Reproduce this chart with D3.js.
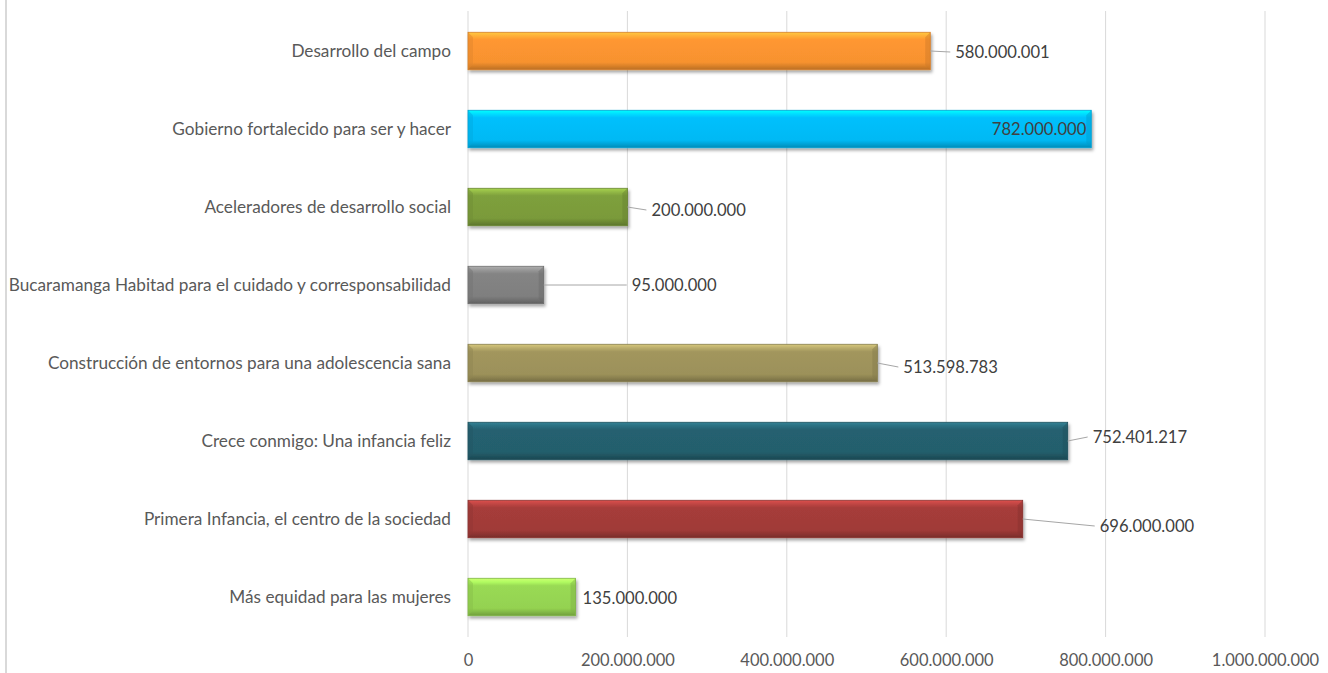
<!DOCTYPE html>
<html>
<head>
<meta charset="utf-8">
<script src="https://cdn.jsdelivr.net/npm/d3@7"></script>
<style>
  body { margin: 0; background: #fff; }
  svg { display: block; font-family: Lato, "Open Sans", sans-serif; }
</style>
</head>
<body>
<div id="chart"></div>
<script>
// categories (top to bottom) and values
const categories = [
  'Desarrollo del campo',
  'Gobierno fortalecido para ser y hacer',
  'Aceleradores de desarrollo social',
  'Bucaramanga Habitad para el cuidado y corresponsabilidad',
  'Construcción de entornos para una adolescencia sana',
  'Crece conmigo: Una infancia feliz',
  'Primera Infancia, el centro de la sociedad',
  'Más equidad para las mujeres'
];
const values = [580000001, 782000000, 200000000, 95000000, 513598783, 752401217, 696000000, 135000000];
const tickValues = [0, 200000000, 400000000, 600000000, 800000000, 1000000000];

// bar colours
const barColors = ['#F7922F', '#00B9F4', '#7A9A3A', '#7F7F7F', '#9C915A', '#245E6C', '#A03A38', '#94D251'];
// where each data label sits relative to the bar end (inside = drawn within bar)
const labelLayout = [
  { dx: 25, dy: 1 }, { inside: true }, { dx: 24, dy: 3 }, { dx: 88, dy: 0 },
  { dx: 26, dy: 4 }, { dx: 25, dy: -4 }, { dx: 77, dy: 7 }, { dx: 7, dy: 1, noLine: true }
];

const W = 1328, H = 673;
const margin = { top: 12, right: 63, bottom: 37, left: 468 };
const fmt = v => d3.format(',')(v).replace(/,/g, '.');
const textColor = '#595959';

const svg = d3.select('#chart').append('svg')
  .attr('width', W).attr('height', H);

const x = d3.scaleLinear().domain([0, 1000000000]).range([margin.left, W - margin.right]);
const y = d3.scaleBand().domain(categories).range([margin.top, H - margin.bottom]).paddingInner(0.52).paddingOuter(0.26);

// outer frame line on the left
svg.append('line').attr('x1', 6).attr('x2', 6).attr('y1', 0).attr('y2', H)
  .attr('stroke', '#d9d9d9').attr('stroke-width', 2);

// gridlines
svg.append('g').selectAll('line').data(tickValues).join('line')
  .attr('x1', d => x(d)).attr('x2', d => x(d))
  .attr('y1', margin.top - 1).attr('y2', H - margin.bottom + 1)
  .attr('stroke', '#d9d9d9').attr('stroke-width', 1);

// x axis labels
const xAxis = d3.axisBottom(x).tickValues(tickValues).tickFormat(fmt).tickSize(0).tickPadding(0);
const ax = svg.append('g').attr('transform', `translate(0,${H - 12})`).call(xAxis);
ax.select('.domain').remove();
ax.selectAll('text').attr('fill', textColor).style('font-size', '16.5px')
  .attr('font-family', 'Lato, "Open Sans", sans-serif').attr('dy', '0.32em');

// y labels
const yAxis = d3.axisLeft(y).tickSize(0).tickPadding(17);
const ay = svg.append('g').attr('transform', `translate(${margin.left},0)`).call(yAxis);
ay.select('.domain').remove();
ay.selectAll('text').attr('fill', textColor).style('font-size', '17.2px')
  .attr('font-family', 'Lato, "Open Sans", sans-serif');

// gradients for bevel look
const defs = svg.append('defs');
const shadow = defs.append('filter').attr('id', 'shadow').attr('x', '-5%').attr('y', '-20%').attr('width', '115%').attr('height', '160%');
shadow.append('feDropShadow').attr('dx', 1.5).attr('dy', 2.5).attr('stdDeviation', 1.6)
  .attr('flood-color', '#000').attr('flood-opacity', 0.35);

barColors.forEach((c, i) => {
  const base = d3.color(c);
  const g = defs.append('linearGradient').attr('id', 'g' + i)
    .attr('x1', 0).attr('x2', 0).attr('y1', 0).attr('y2', 1);
  g.append('stop').attr('offset', '0%').attr('stop-color', base.brighter(0.9));
  g.append('stop').attr('offset', '10%').attr('stop-color', base.brighter(0.5));
  g.append('stop').attr('offset', '20%').attr('stop-color', base.brighter(0.1));
  g.append('stop').attr('offset', '80%').attr('stop-color', base);
  g.append('stop').attr('offset', '90%').attr('stop-color', base.darker(0.35));
  g.append('stop').attr('offset', '100%').attr('stop-color', base.darker(0.8));
});

const bars = svg.append('g').selectAll('g').data(categories).join('g');

bars.append('rect')
  .attr('x', x(0))
  .attr('y', d => y(d))
  .attr('width', (d, i) => x(values[i]) - x(0))
  .attr('height', y.bandwidth())
  .attr('fill', (d, i) => `url(#g${i})`)
  .attr('stroke', (d, i) => d3.color(barColors[i]).darker(0.4))
  .attr('stroke-width', 0.8)
  .attr('filter', 'url(#shadow)');

// left bevel edge
bars.append('path')
  .attr('d', d => {
    const x0 = x(0), y0 = y(d), h = y.bandwidth(), b = 5;
    return `M${x0},${y0}L${x0 + b},${y0 + b}L${x0 + b},${y0 + h - b}L${x0},${y0 + h}Z`;
  })
  .attr('fill', (d, i) => d3.color(barColors[i]).darker(0.25)).attr('opacity', 0.5);
// right bevel edge
bars.append('path')
  .attr('d', (d, i) => {
    const x1 = x(values[i]), y0 = y(d), h = y.bandwidth(), b = 5;
    return `M${x1},${y0}L${x1 - b},${y0 + b}L${x1 - b},${y0 + h - b}L${x1},${y0 + h}Z`;
  })
  .attr('fill', (d, i) => d3.color(barColors[i]).darker(0.5)).attr('opacity', 0.45);

// data labels and leader lines
bars.each(function(d, i) {
  const g = d3.select(this);
  const lay = labelLayout[i];
  const xe = x(values[i]);
  const yc = y(d) + y.bandwidth() / 2;
  if (lay.inside) {
    g.append('text').attr('x', xe - 5).attr('y', yc).attr('dy', '0.35em')
      .attr('text-anchor', 'end').attr('fill', '#404040').style('font-size', '16.6px')
      .text(fmt(values[i]));
    return;
  }
  const tx = xe + lay.dx, ty = yc + lay.dy;
  if (!lay.noLine) {
    g.append('line').attr('x1', xe).attr('y1', yc).attr('x2', tx - 5).attr('y2', ty)
      .attr('stroke', '#a6a6a6').attr('stroke-width', 1);
  }
  g.append('text').attr('x', tx).attr('y', ty).attr('dy', '0.35em')
    .attr('fill', '#404040').style('font-size', '16.6px')
    .text(fmt(values[i]));
});
</script>
</body>
</html>
